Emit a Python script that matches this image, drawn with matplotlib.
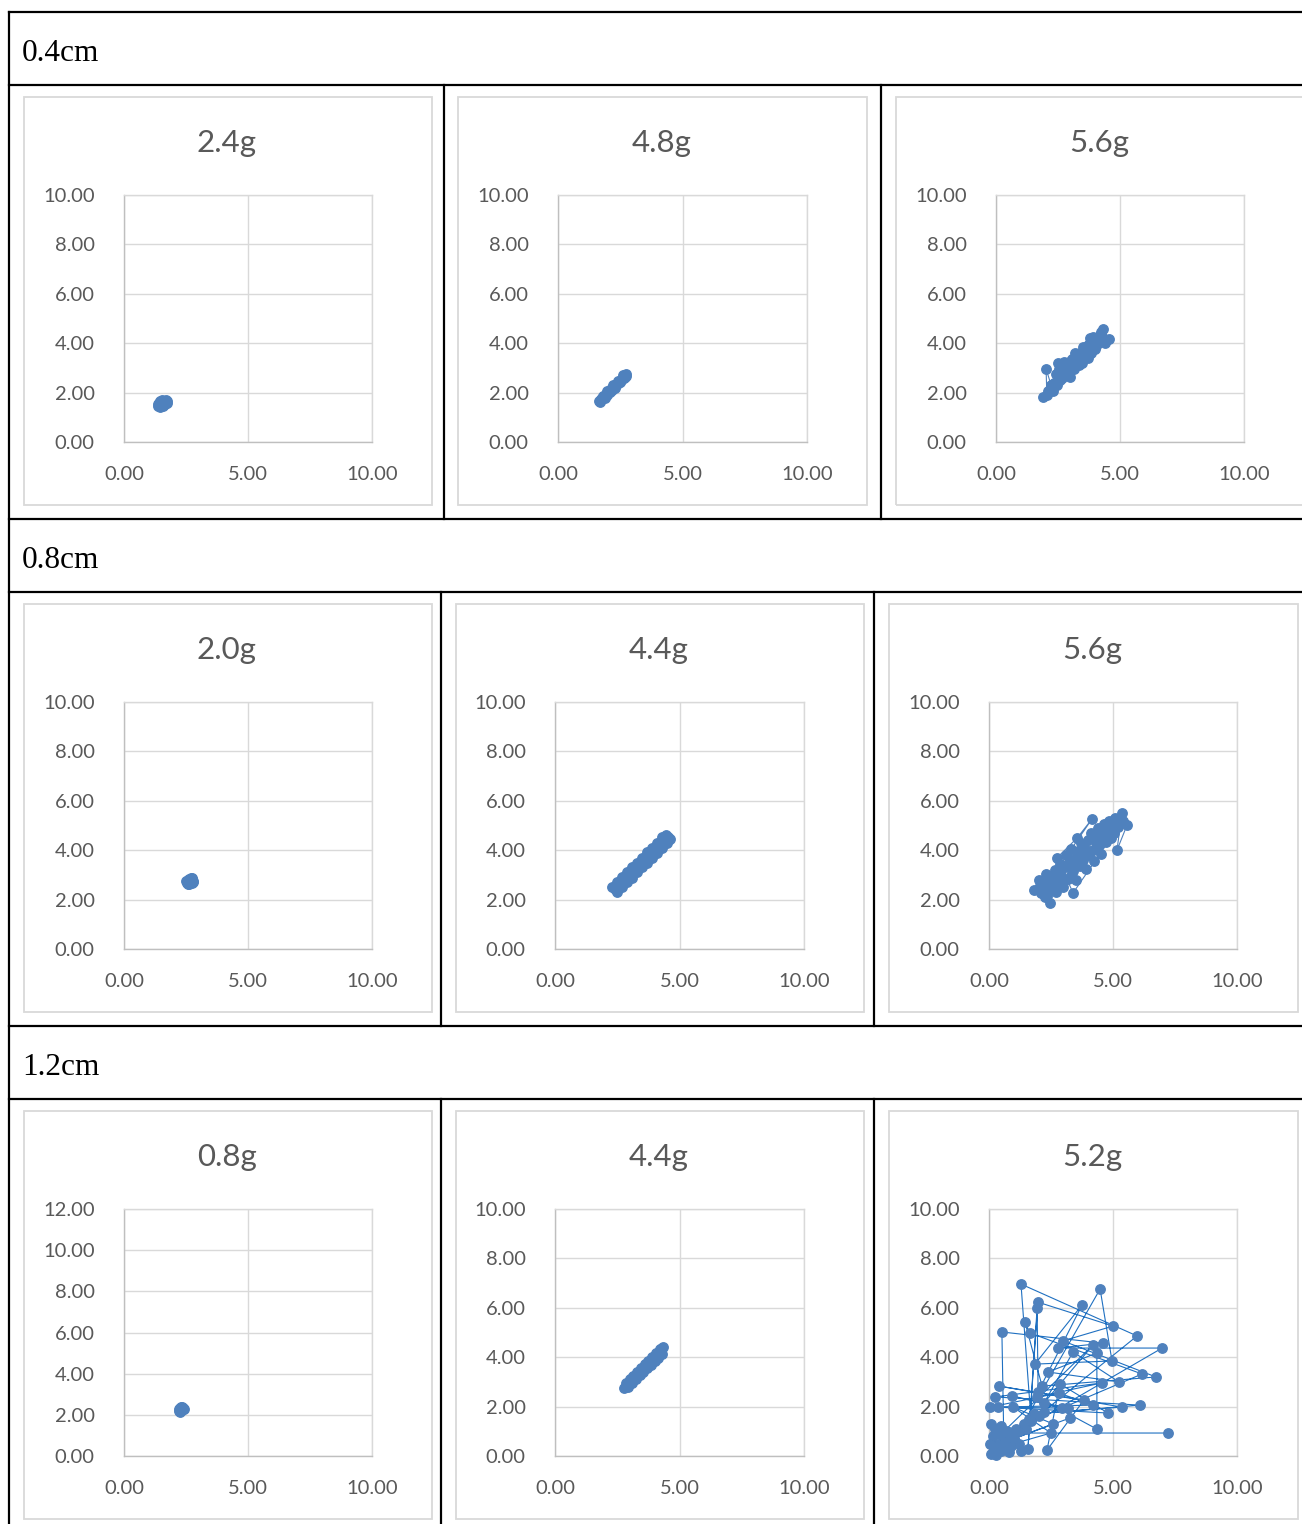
import matplotlib
matplotlib.use("Agg")
import matplotlib.pyplot as plt
from matplotlib.lines import Line2D
from matplotlib.patches import Rectangle

W, H = 1302, 1524

section_labels = ["0.4cm", "0.8cm", "1.2cm"]
chart_titles = [["2.4g", "4.8g", "5.6g"], ["2.0g", "4.4g", "5.6g"], ["0.8g", "4.4g", "5.2g"]]
y_max = [[10, 10, 10], [10, 10, 10], [12, 10, 10]]

# 0.4cm
x_04_24 = [1.38, 1.45, 1.50, 1.55, 1.60, 1.65, 1.70, 1.42, 1.48, 1.53, 1.58, 1.63, 1.68, 1.36, 1.47, 1.56, 1.66, 1.74, 1.52, 1.61, 1.44, 1.72]
y_04_24 = [1.45, 1.48, 1.50, 1.53, 1.57, 1.60, 1.63, 1.58, 1.60, 1.62, 1.66, 1.68, 1.70, 1.52, 1.42, 1.46, 1.52, 1.58, 1.70, 1.64, 1.64, 1.66]
x_04_48 = [1.65, 1.72, 1.78, 1.85, 1.92, 1.98, 2.05, 2.12, 2.18, 2.25, 2.32, 2.40, 2.47, 2.55, 2.62, 2.70, 2.74,
           1.70, 1.88, 2.08, 2.28, 2.50, 2.66, 1.80, 1.98, 2.20, 2.40, 2.60, 2.75, 1.74, 1.95, 2.15, 2.36, 2.58]
y_04_48 = [1.68, 1.76, 1.80, 1.88, 1.95, 2.00, 2.08, 2.14, 2.18, 2.25, 2.30, 2.38, 2.44, 2.52, 2.58, 2.64, 2.68,
           1.62, 1.80, 2.02, 2.20, 2.42, 2.58, 1.86, 2.08, 2.30, 2.48, 2.70, 2.74, 1.72, 1.90, 2.10, 2.34, 2.56]
x_04_56 = [1.90, 2.05, 2.02, 2.30, 2.45, 2.50, 2.60, 2.70, 2.55, 2.85, 2.90, 3.00, 2.80, 3.10, 3.20, 3.05, 3.30, 3.40, 3.25, 3.50,
           3.55, 3.45, 3.70, 3.75, 3.60, 3.90, 3.95, 3.85, 4.10, 4.15, 4.05, 4.30, 4.31, 4.56, 4.20, 2.75, 3.15, 3.65, 2.35, 3.80,
           2.20, 2.65, 2.95, 3.35, 3.70, 4.00, 4.40, 2.40, 3.00, 3.50, 4.25, 2.10, 3.20, 3.90]
y_04_56 = [1.84, 1.90, 2.96, 2.05, 2.30, 3.20, 2.50, 2.80, 2.95, 2.70, 3.05, 2.90, 3.20, 3.10, 3.40, 3.35, 3.30, 3.60, 3.55, 3.50,
           3.75, 3.20, 3.70, 3.95, 3.45, 3.85, 4.10, 3.60, 4.00, 4.25, 3.90, 4.20, 4.57, 4.17, 4.35, 3.25, 2.95, 3.90, 2.40, 4.20,
           2.30, 2.60, 3.25, 3.10, 3.40, 3.75, 4.00, 2.75, 2.65, 3.85, 4.45, 2.05, 3.60, 4.25]

# 0.8cm
x_08_20 = [2.55, 2.60, 2.65, 2.70, 2.75, 2.58, 2.63, 2.68, 2.73, 2.78, 2.62, 2.70, 2.52, 2.80, 2.57, 2.76]
y_08_20 = [2.68, 2.72, 2.75, 2.78, 2.82, 2.80, 2.84, 2.70, 2.66, 2.76, 2.64, 2.86, 2.74, 2.70, 2.62, 2.88]
x_08_44 = [2.40, 2.60, 2.80, 3.00, 3.20, 3.40, 3.60, 3.80, 4.00, 4.20, 4.40, 4.55,
           2.30, 2.50, 2.70, 2.90, 3.10, 3.30, 3.50, 3.70, 3.90, 4.10, 4.30, 4.45,
           2.50, 2.70, 2.90, 3.10, 3.30, 3.50, 3.70, 3.90, 4.10, 4.30, 4.50, 4.62]
y_08_44 = [2.42, 2.58, 2.82, 3.00, 3.18, 3.42, 3.60, 3.78, 4.02, 4.20, 4.38, 4.55,
           2.50, 2.72, 2.90, 3.10, 3.32, 3.50, 3.70, 3.92, 4.10, 4.30, 4.52, 4.62,
           2.30, 2.50, 2.70, 2.88, 3.10, 3.30, 3.48, 3.70, 3.88, 4.10, 4.28, 4.45]
x_08_56 = [1.80, 2.00, 2.10, 2.20, 2.30, 2.35, 2.45, 2.46, 2.60, 2.65, 2.70, 2.80, 2.85, 2.90, 3.00, 3.05, 3.10, 3.20, 3.25,
           3.30, 3.40, 3.45, 3.50, 3.60, 3.65, 3.70, 3.80, 3.85, 3.90, 4.00, 4.05, 4.10, 4.20, 4.25, 4.30, 4.40, 4.45, 4.50,
           4.60, 4.65, 4.70, 4.80, 4.85, 4.90, 5.00, 5.05, 5.10, 5.20, 5.36, 5.16, 5.56, 5.40, 3.39, 2.75, 3.55, 4.15, 2.40, 3.15,
           2.05, 2.55, 2.95, 3.35, 3.75, 4.35, 4.75, 5.25, 2.25, 3.00]
y_08_56 = [2.39, 2.80, 2.25, 2.60, 3.05, 2.15, 2.45, 1.85, 2.80, 3.20, 2.30, 2.65, 3.45, 3.00, 2.50, 3.30, 3.80, 2.85, 3.55,
           4.05, 3.15, 3.70, 2.80, 3.95, 3.35, 4.30, 3.60, 4.10, 3.25, 4.40, 3.80, 4.70, 4.00, 3.55, 4.55, 4.90, 4.20, 3.85,
           4.65, 5.05, 4.35, 4.85, 5.20, 4.50, 5.00, 4.70, 5.30, 4.95, 5.50, 4.00, 5.00, 5.20, 2.27, 3.70, 4.49, 5.26, 2.70, 3.40,
           2.55, 2.95, 3.30, 3.50, 3.85, 4.25, 4.60, 5.15, 2.10, 2.70]

# 1.2cm
x_12_08 = [2.22, 2.27, 2.32, 2.37, 2.25, 2.30, 2.35, 2.28, 2.40, 2.20, 2.34, 2.24]
y_12_08 = [2.20, 2.24, 2.28, 2.32, 2.34, 2.38, 2.22, 2.30, 2.26, 2.30, 2.40, 2.16]
x_12_44 = [2.78, 2.90, 3.05, 3.20, 3.35, 3.50, 3.65, 3.80, 3.95, 4.10, 4.25, 4.31,
           2.85, 3.00, 3.15, 3.30, 3.45, 3.60, 3.75, 3.90, 4.05, 4.20, 4.35,
           2.95, 3.10, 3.25, 3.40, 3.55, 3.70, 3.85, 4.00, 4.15, 4.30]
y_12_44 = [2.75, 2.88, 3.05, 3.18, 3.35, 3.48, 3.66, 3.78, 3.95, 4.08, 4.24, 4.37,
           2.95, 3.12, 3.25, 3.42, 3.56, 3.72, 3.86, 4.02, 4.18, 4.32, 4.42,
           2.80, 2.96, 3.10, 3.26, 3.40, 3.56, 3.70, 3.86, 3.98, 4.12]
x_12_52 = [0.10, 0.30, 0.15, 0.50, 0.60, 0.20, 0.90, 0.40, 0.70, 1.00, 0.30, 0.80, 1.20, 0.05, 0.50, 1.10, 0.40, 0.80,
           1.30, 0.25, 0.60, 1.00, 0.10, 0.70, 1.40, 1.60, 1.80, 2.00, 2.20, 1.50, 1.70,
           1.29, 5.97, 0.60, 0.52, 4.60, 2.78, 6.98, 1.20, 4.48, 4.96, 1.85, 3.75, 1.98, 1.94, 1.57, 1.97, 5.00, 2.98,
           6.73, 2.14, 1.45, 1.65, 6.17, 0.50, 4.19, 2.22, 3.39, 5.24, 2.38, 4.35, 4.35, 1.94, 4.56, 0.24, 6.09, 1.80,
           5.36, 0.40, 3.83, 2.34, 2.86, 4.80, 0.36, 4.19, 2.82, 0.04, 2.94, 0.93, 3.19, 3.27, 1.00, 2.58, 0.97, 2.50,
           0.30, 0.85, 7.22]
y_12_52 = [0.10, 0.40, 0.80, 0.20, 0.60, 0.30, 0.40, 0.90, 1.00, 0.70, 0.05, 0.15, 0.50, 0.50, 1.20, 1.10, 0.50, 0.80,
           0.20, 1.10, 0.35, 0.95, 1.30, 0.60, 1.30, 1.50, 1.70, 1.60, 1.80, 1.10, 1.40,
           6.96, 4.86, 0.50, 5.02, 4.57, 4.37, 4.37, 1.00, 6.76, 3.85, 3.72, 6.11, 2.59, 5.99, 0.28, 6.23, 5.26, 4.66,
           3.20, 2.83, 5.42, 4.98, 3.32, 0.90, 4.49, 2.15, 4.21, 3.00, 3.40, 4.17, 1.09, 2.39, 2.96, 2.39, 2.06, 1.70,
           1.98, 2.83, 2.27, 0.24, 2.92, 1.74, 1.98, 2.06, 2.55, 1.98, 1.94, 2.43, 1.94, 1.54, 0.70, 1.30, 1.98, 0.93,
           0.30, 0.93, 0.93]

series = [[(x_04_24, y_04_24), (x_04_48, y_04_48), (x_04_56, y_04_56)],
          [(x_08_20, y_08_20), (x_08_44, y_08_44), (x_08_56, y_08_56)],
          [(x_12_08, y_12_08), (x_12_44, y_12_44), (x_12_52, y_12_52)]]

# layout in pixels (top-left origin)
section_top = [12, 519, 1026]
header_h = 73
dividers = [[444, 881], [441, 874], [441, 874]]
frames = [[(24, 432), (458, 867), (896, 1320)],
          [(24, 432), (456, 864), (889, 1298)],
          [(24, 432), (456, 864), (889, 1298)]]
plots = [[(124, 372), (558, 807), (996, 1244)],
         [(124, 372), (555, 804), (989, 1237)],
         [(124, 372), (555, 804), (989, 1237)]]

fig = plt.figure(figsize=(W / 100, H / 100), dpi=100)


def fx(px):
    return px / W


def fy(py):
    return 1 - py / H


def hline(y, x0=9, x1=W + 5):
    fig.add_artist(Line2D([fx(x0), fx(x1)], [fy(y), fy(y)], color="black", lw=1.6))


def vline(x, y0, y1):
    fig.add_artist(Line2D([fx(x), fx(x)], [fy(y0), fy(y1)], color="black", lw=1.6))


vline(9, 12, H + 5)
tick_color = "#595959"

for r in range(3):
    top = section_top[r]
    hline(top)
    hline(top + header_h)
    fig.text(fx(22), fy(top + 49), section_labels[r], family="Liberation Serif",
             fontsize=22.5, color="black", va="baseline", ha="left")
    row_top = top + header_h
    row_bottom = section_top[r + 1] if r < 2 else H + 5
    for d in dividers[r]:
        vline(d, row_top, row_bottom)

    for c in range(3):
        f0, f1 = frames[r][c]
        ftop = row_top + 12
        fbot = ftop + 408
        fig.add_artist(Rectangle((fx(f0), fy(fbot)), fx(f1 - f0), (fbot - ftop) / H,
                                 fill=False, edgecolor="#D9D9D9", lw=1.3))
        p0, p1 = plots[r][c]
        ptop = row_top + 110
        pbot = ptop + 247
        ax = fig.add_axes([fx(p0), fy(pbot), fx(p1 - p0), (pbot - ptop) / H])
        xs, ys = series[r][c]
        is_spread = (r == 2 and c == 2)
        ax.plot(xs, ys, "-o", color="#1F70C1" if is_spread else "#4F81BD",
                lw=0.8, ms=6.8, mfc="#4F81BD", mec="#4F81BD", clip_on=False, zorder=3)
        ymax = y_max[r][c]
        ax.set_xlim(0, 10)
        ax.set_ylim(0, ymax)
        ax.set_xticks([0, 5, 10])
        ax.set_yticks(list(range(0, ymax + 1, 2)))
        ax.set_xticklabels(["%.2f" % v for v in [0, 5, 10]])
        ax.set_yticklabels(["%.2f" % v for v in range(0, ymax + 1, 2)])
        ax.grid(True, color="#D9D9D9", lw=1.0)
        ax.set_axisbelow(True)
        for side in ["top", "right"]:
            ax.spines[side].set_color("#D9D9D9")
            ax.spines[side].set_linewidth(1.0)
        for side in ["left", "bottom"]:
            ax.spines[side].set_color("#BFBFBF")
            ax.spines[side].set_linewidth(1.0)
        ax.tick_params(length=0, labelcolor=tick_color, labelsize=14.5)
        ax.tick_params(axis="y", pad=21)
        ax.tick_params(axis="x", pad=17)
        for lab in ax.get_xticklabels() + ax.get_yticklabels():
            lab.set_family("Lato")
        fig.text(fx((p0 + p1) / 2 - 21), fy(ptop - 43), chart_titles[r][c], family="Lato",
                 fontsize=22.5, color=tick_color, ha="center", va="baseline")

fig.savefig("out.png", dpi=100, facecolor="white")
